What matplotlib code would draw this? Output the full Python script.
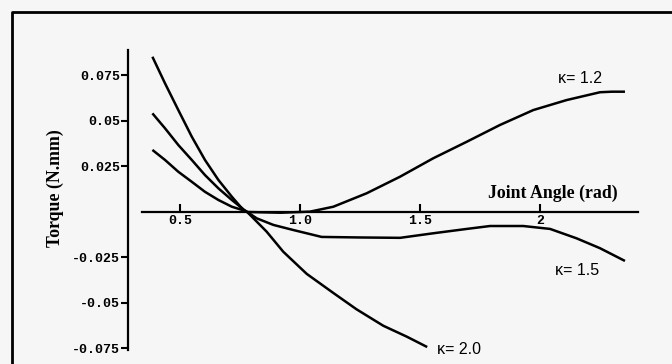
import matplotlib
matplotlib.use("Agg")
import matplotlib.pyplot as plt
from matplotlib.lines import Line2D

# joint angle (rad) / torque (N.mm)
angle_k20 = [0.385, 0.4375, 0.493, 0.549, 0.604, 0.660, 0.716, 0.764, 0.78, 0.792, 0.861,
             0.930, 1.028, 1.139, 1.236, 1.347, 1.445, 1.530]
torque_k20 = [0.0853, 0.0707, 0.0560, 0.0414, 0.0286, 0.0176, 0.0084, 0.0011, 0.0, -0.0016,
              -0.0108, -0.0218, -0.0340, -0.0445, -0.0535, -0.0625, -0.0685, -0.0742]

angle_k15 = [0.385, 0.4375, 0.493, 0.549, 0.604, 0.660, 0.716, 0.764, 0.78, 0.820, 0.889,
             0.972, 1.028, 1.090, 1.25, 1.417, 1.555, 1.695, 1.792, 1.930, 2.042, 2.153,
             2.25, 2.354]
torque_k15 = [0.0542, 0.0460, 0.0368, 0.0286, 0.0203, 0.0130, 0.0066, 0.0015, 0.0, -0.0035,
              -0.0071, -0.0099, -0.0117, -0.0137, -0.0140, -0.0142, -0.0117, -0.0093, -0.0077,
              -0.0077, -0.0093, -0.0145, -0.0199, -0.0269]

angle_k12 = [0.385, 0.4375, 0.493, 0.549, 0.604, 0.660, 0.716, 0.760, 0.78, 0.92, 1.042,
             1.139, 1.278, 1.417, 1.555, 1.695, 1.833, 1.972, 2.111, 2.25, 2.30, 2.354]
torque_k12 = [0.0341, 0.0286, 0.0221, 0.0166, 0.0111, 0.0066, 0.0029, 0.0011, 0.0, -0.0004,
              0.0002, 0.0029, 0.0103, 0.0194, 0.0295, 0.0386, 0.0478, 0.0560, 0.0615, 0.0658,
              0.0661, 0.0661]

x_ticks = [0.5, 1.0, 1.5, 2.0]
x_ticklabels = ["0.5", "1.0", "1.5", "2"]
y_ticks = [0.075, 0.05, 0.025, -0.025, -0.05, -0.075]
y_ticklabels = ["0.075", "0.05", "0.025", "-0.025", "-0.05", "-0.075"]

fig = plt.figure(figsize=(6.72, 3.64), dpi=100)
fig.patch.set_facecolor("#f6f6f6")
ax = fig.add_axes([0, 0, 1, 1])
ax.set_facecolor("none")

ax.set_xlim(-0.25, 2.55)
ax.set_ylim(-0.08352, 0.11648)

for xs, ys in [(angle_k20, torque_k20), (angle_k15, torque_k15), (angle_k12, torque_k12)]:
    ax.plot(xs, ys, color="black", lw=1.8, solid_capstyle="butt", solid_joinstyle="round")

# axes cross near the origin, drawn as floating spines
ax.spines["top"].set_visible(False)
ax.spines["right"].set_visible(False)
ax.spines["left"].set_position(("data", 0.2833))
ax.spines["bottom"].set_position(("data", 0.0))
ax.spines["left"].set_bounds(-0.0758, 0.089)
ax.spines["bottom"].set_bounds(0.342, 2.408)
for s in ("left", "bottom"):
    ax.spines[s].set_linewidth(1.6)
    ax.spines[s].set_color("black")

mono = dict(family="Liberation Mono", weight="bold", size=9.5)
ax.set_xticks(x_ticks)
ax.set_xticklabels(x_ticklabels, fontdict=mono)
ax.set_yticks(y_ticks)
ax.set_yticklabels(y_ticklabels, fontdict=mono)
ax.tick_params(axis="x", direction="in", length=6, width=1.5, pad=2.5)
ax.tick_params(axis="y", direction="out", length=5, width=1.5, pad=0.5)

serif = dict(family="Liberation Serif", weight="bold", size=12.8)
ax.text(2.054, 0.0104, "Joint Angle (rad)", ha="center", va="center", **serif)
ax.text(-0.021, 0.0132, "Torque (N.mm)", ha="center", va="center", rotation=90, **serif)

sans = dict(family="Liberation Sans", size=11.5)
ax.text(2.167, 0.0736, "κ= 1.2", ha="center", va="center", **sans)
ax.text(2.154, -0.0319, "κ= 1.5", ha="center", va="center", **sans)
ax.text(1.6625, -0.0753, "κ= 2.0", ha="center", va="center", **sans)

# page frame around the figure
fx, fy = 12 / 672, 1 - 12 / 364
fig.add_artist(Line2D([fx, fx, 1.0], [0.0, fy, fy], transform=fig.transFigure,
                      color="black", lw=2.0))

fig.savefig("out.png", dpi=100)
